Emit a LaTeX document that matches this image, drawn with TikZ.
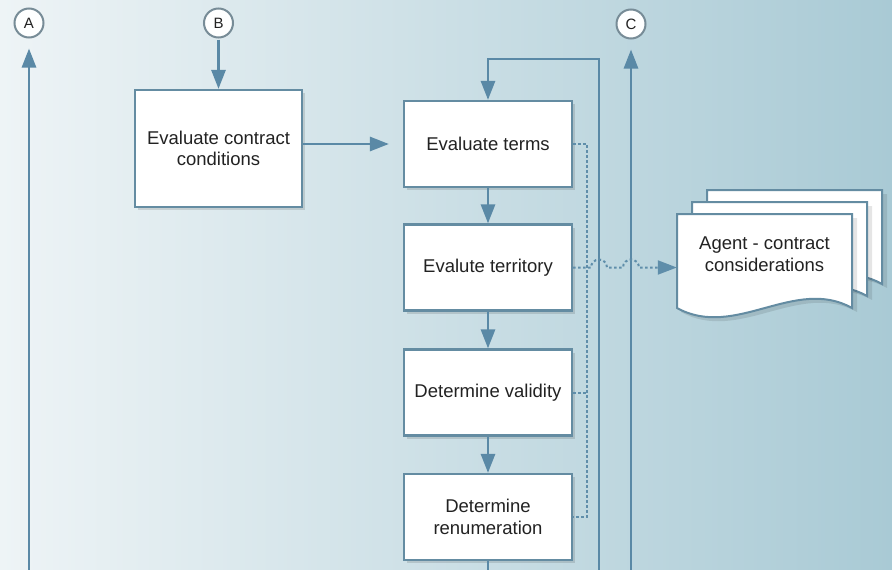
\documentclass[tikz,border=0pt]{standalone}
\usepackage{fontspec}
\setmainfont{Liberation Sans}
\usetikzlibrary{arrows.meta,shadows}

\definecolor{bgL}{HTML}{EEF4F6}
\definecolor{bgM}{HTML}{CCE0E6}
\definecolor{bgR}{HTML}{A9CAD5}
\definecolor{flowc}{HTML}{5A89A6}
\definecolor{boxline}{HTML}{648CA2}
\definecolor{dotc}{HTML}{5F8EAA}
\definecolor{ringc}{HTML}{778C97}
\definecolor{txt}{HTML}{222222}

\tikzset{
  stepbox/.style={draw=boxline, line width=2.2pt, fill=white, inner sep=0pt,
    minimum width=168pt, minimum height=86pt, align=center, text=txt,
    font=\fontsize{18.5}{21.5}\selectfont,
    drop shadow={shadow xshift=3pt, shadow yshift=-3pt, opacity=0.12, fill=black}},
  conn/.style={circle, draw=ringc, line width=2pt, fill=white!96!bgL,
    minimum size=29pt, inner sep=0pt, text=txt, font=\fontsize{15}{15}\selectfont},
  flow/.style={draw=flowc, line width=2.8pt,
    -{Triangle[length=19pt,width=14pt]}},
  plain/.style={draw=flowc, line width=2.8pt},
  dotline/.style={draw=dotc, line width=2pt, dash pattern=on 2.5pt off 2.5pt},
  page/.style={draw=boxline, line width=2pt, fill=white},
  pageshadow/.style={fill=black, opacity=0.10},
}

\begin{document}
\begin{tikzpicture}[x=1pt,y=-1pt]
  % background
  \shade[left color=bgL, middle color=bgM, right color=bgR] (0,0) rectangle (892,570);
  \useasboundingbox (0,0) rectangle (892,570);

  % off-page connectors
  \node[conn] (A) at (29,23) {A};
  \node[conn] (B) at (218.5,23) {B};
  \node[conn] (C) at (631,24) {C};

  % process steps
  \node[stepbox, minimum width=167pt, minimum height=117pt] (contract) at (218.5,148.5)
    {Evaluate contract\\conditions};
  \node[stepbox] (terms) at (488,144) {Evaluate terms};
  \node[stepbox] (territory) at (488,267.5) {Evalute territory};
  \node[stepbox] (validity) at (488,392.5) {Determine validity};
  \node[stepbox] (renum) at (488,517) {Determine\\renumeration};

  % stacked document
  \foreach \dx/\dy in {30/-24, 15/-12, 0/0}{
    \begin{scope}[shift={(\dx,\dy)}]
      \fill[pageshadow] (681,218) -- (857,218) -- (857,312)
        .. controls (799,280) and (739,344) .. (681,312) -- cycle;
      \path[page] (677,214) -- (852,214) -- (852,308)
        .. controls (795,276) and (735,340) .. (677,308) -- cycle;
    \end{scope}
  }
  \node[inner sep=0pt, minimum width=175pt, align=center, text=txt,
        font=\fontsize{18.5}{21.5}\selectfont] (doc) at (764.5,254)
    {Agent - contract\\considerations};

  % free ends at the page edges
  \coordinate (abot) at (29,570);
  \coordinate (cbot) at (631,570);
  \coordinate (loopbot) at (599,570);
  \coordinate (looptop) at (488,59);
  \coordinate (renbot) at (488,570);
  \coordinate (dtop) at (587,144);
  \coordinate (dbot) at (587,517);

  % main flow
  \draw[flow, shorten >=10pt] (abot) -- (A.south);
  \draw[flow, shorten <=1pt] (B.south) -- (contract.north);
  \draw[flow, shorten >=14pt] (contract.east |- terms.west) -- (terms.west);
  \draw[flow] (terms.south) -- (territory.north);
  \draw[flow] (territory.south) -- (validity.north);
  \draw[flow] (validity.south) -- (renum.north);
  \draw[plain] (renum.south) -- (renbot);
  \draw[flow] (loopbot) |- (looptop) -- (terms.north);
  \draw[flow, shorten >=10pt] (cbot) -- (C.south);

  % information links to the document
  \draw[dotline] (terms.east) -- (dtop) -- (dbot) -- (renum.east);
  \draw[dotline] (validity.east) -- (validity.east -| dtop);
  \draw[dotline, -{Triangle[length=19pt,width=14pt]}]
    (territory.east) -- (591,267.5)
    arc[start angle=180, end angle=0, radius=8pt] -- (623,267.5)
    arc[start angle=180, end angle=0, radius=8pt]
    -- (doc.west |- territory.east);
\end{tikzpicture}
\end{document}
